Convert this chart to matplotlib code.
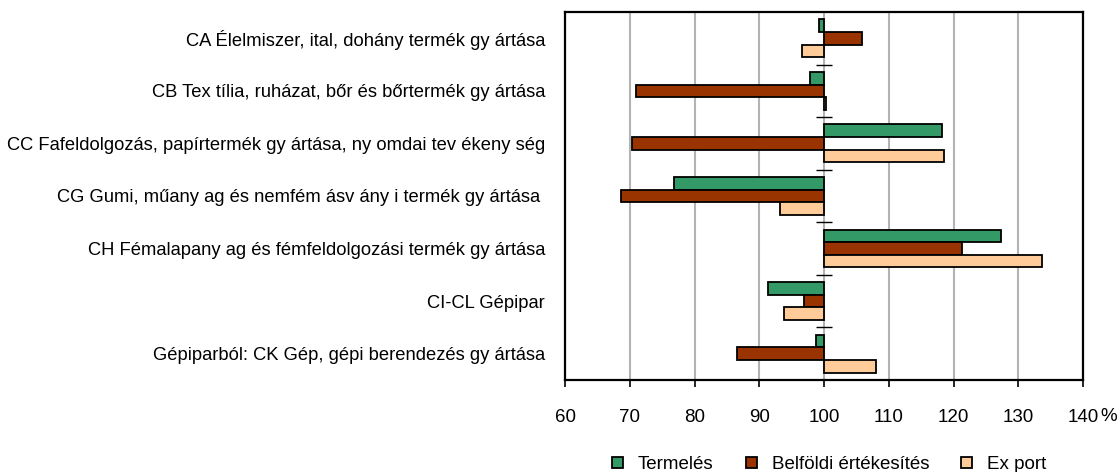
import matplotlib
matplotlib.use('Agg')
import matplotlib.pyplot as plt
import numpy as np

plt.rcParams['font.family'] = ['Liberation Sans Narrow', 'Liberation Sans', 'DejaVu Sans']

# ---------- data (previous year = 100) ----------
categories = [
    "CA Élelmiszer, ital, dohány termék gy ártása",
    "CB Tex tília, ruházat, bőr és bőrtermék gy ártása",
    "CC Fafeldolgozás, papírtermék gy ártása, ny omdai tev ékeny ség",
    "CG Gumi, műany ag és nemfém ásv ány i termék gy ártása ",
    "CH Fémalapany ag és fémfeldolgozási termék gy ártása",
    "CI-CL Gépipar",
    "Gépiparból: CK Gép, gépi berendezés gy ártása",
]
termeles = [99.3, 97.8, 118.2, 76.9, 127.4, 91.4, 98.8]
belfoldi = [105.8, 71.0, 70.4, 68.6, 121.3, 96.9, 86.5]
export = [96.6, 100.3, 118.5, 93.2, 133.6, 93.8, 108.0]

series_names = ["Termelés", "Belföldi értékesítés", "Ex port"]
series_colors = ["#339966", "#993300", "#FFCC99"]
x_ticks = [60, 70, 80, 90, 100, 110, 120, 130, 140]
base = 100

# ---------- figure ----------
fig = plt.figure(figsize=(11.18, 4.72), dpi=100)
ax = fig.add_axes([0.5054, 0.1949, 0.4633, 0.7797])

y = np.arange(len(categories))
h = 0.24
for k, (vals, name, col) in enumerate(zip([termeles, belfoldi, export], series_names, series_colors)):
    vals = np.array(vals)
    ax.barh(y + (k - 1) * h, vals - base, left=base, height=h, color=col,
            edgecolor='black', linewidth=1.3, label=name, zorder=3)

# category axis crossing at 100: only the short tick marks are visible
sep = np.arange(len(categories) - 1) + 0.5
ax.hlines(sep, base - 1.2, base + 1.2, color='black', linewidth=1, zorder=4)

ax.set_xlim(x_ticks[0], x_ticks[-1])
ax.set_ylim(len(categories) - 0.5, -0.5)
ax.set_xticks(x_ticks)
ax.set_xticklabels([str(t) for t in x_ticks], fontsize=13.5)
ax.tick_params(axis='x', direction='out', length=5, width=1.2, pad=16)
ax.grid(axis='x', color='#b3b3b3', linewidth=1.5, zorder=0)
ax.set_axisbelow(True)

ax.set_yticks(y)
ax.set_yticklabels(categories, fontsize=13.2)
ax.tick_params(axis='y', length=0, pad=14.5)

for s in ax.spines.values():
    s.set_linewidth(1.6)
    s.set_color('black')

ax.text(1.05, -0.1, "%", transform=ax.transAxes, fontsize=13.5, ha='center', va='center')

ax.legend(loc='center', bbox_to_anchor=(0.51, -0.23), ncol=3, frameon=False,
          fontsize=13.5, handlelength=0.6, handleheight=0.6, columnspacing=1.7,
          handletextpad=0.8, borderpad=0, borderaxespad=0)

plt.savefig('out.png', dpi=100)
